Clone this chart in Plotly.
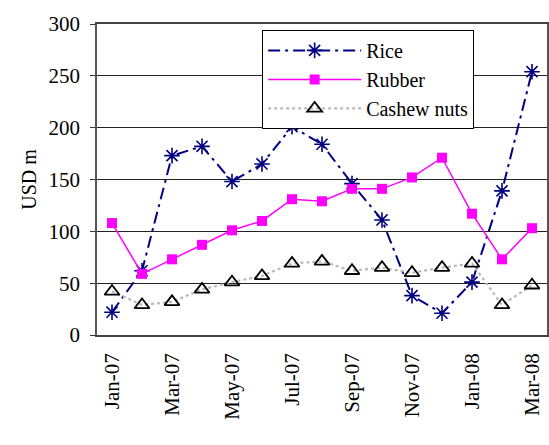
import plotly.graph_objects as go

months = ["Jan-07", "Feb-07", "Mar-07", "Apr-07", "May-07", "Jun-07", "Jul-07",
          "Aug-07", "Sep-07", "Oct-07", "Nov-07", "Dec-07", "Jan-08", "Feb-08", "Mar-08"]
rice = [22, 62, 173, 182, 148, 165, 201, 184, 146, 111, 38, 21, 51, 139, 254]
rubber = [108, 59, 73, 87, 101, 110, 131, 129, 141, 141, 152, 171, 117, 73, 103]
cashew = [42, 29, 32, 44, 51, 57, 69, 71, 62, 65, 60, 65, 69, 29, 48]
y_ticks = [0, 50, 100, 150, 200, 250, 300]

idx = list(range(len(months)))
label_idx = idx[::2]
boundary_idx = [i - 0.5 for i in idx[::2]] + [len(months) - 0.5]

serif = "Liberation Serif"

fig = go.Figure()
fig.add_trace(go.Scatter(
    x=idx, y=rice, name="Rice", mode="lines+markers",
    line=dict(color="#000080", width=2, dash="12px,5px,3px,5px"),
    marker=dict(symbol="asterisk-open", size=13, color="#000080",
                line=dict(color="#000080", width=1.6)),
))
fig.add_trace(go.Scatter(
    x=idx, y=rubber, name="Rubber", mode="lines+markers",
    line=dict(color="#FF00FF", width=1.5),
    marker=dict(symbol="square", size=10, color="#FF00FF"),
))
fig.add_trace(go.Scatter(
    x=idx, y=cashew, name="Cashew nuts", mode="lines+markers",
    line=dict(color="#B8B8B8", width=2.2, dash="dot"),
    marker=dict(symbol="triangle-up-open", size=13, color="black",
                line=dict(color="black", width=1.8)),
))

fig.update_layout(
    width=549, height=445,
    margin=dict(l=97, r=0, t=24, b=110),
    paper_bgcolor="white", plot_bgcolor="white",
    font=dict(family=serif, size=20, color="black"),
    showlegend=True,
    legend=dict(
        x=0.367, y=0.981, xanchor="left", yanchor="top",
        bgcolor="white", bordercolor="black", borderwidth=1,
        font=dict(family=serif, size=20, color="black"),
        itemwidth=93, tracegroupgap=6,
    ),
    xaxis=dict(
        range=[-0.5, len(months) - 0.5],
        tickmode="array", tickvals=label_idx,
        ticktext=[months[i] for i in label_idx],
        tickangle=-90, ticks="", showgrid=False, ticklabelstandoff=8,
        showline=True, linecolor="#444", linewidth=1.5, mirror=True,
        zeroline=False, tickfont=dict(family=serif, size=21),
    ),
    xaxis2=dict(
        overlaying="x", side="bottom", anchor="y",
        range=[-0.5, len(months) - 0.5],
        tickmode="array", tickvals=boundary_idx, ticktext=[""] * len(boundary_idx),
        ticks="outside", ticklen=6, tickcolor="#333", tickwidth=1.2,
        showgrid=False, showline=False, zeroline=False,
    ),
    yaxis=dict(
        range=[0, 300], tickmode="array", tickvals=y_ticks,
        ticks="outside", ticklen=5, tickcolor="#333", ticklabelstandoff=6,
        showgrid=True, gridcolor="#222", gridwidth=1,
        showline=True, linecolor="#555", linewidth=1.5, mirror=True,
        zeroline=False, tickfont=dict(family=serif, size=21),
        title=dict(text="USD m", font=dict(family=serif, size=20), standoff=7),
    ),
)

fig.write_html("out.html")
